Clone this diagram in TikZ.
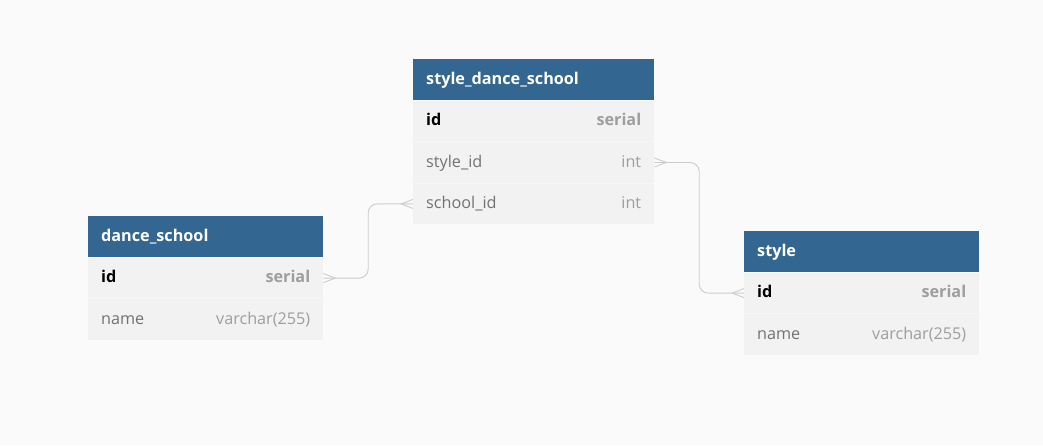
\documentclass[tikz,border=0pt]{standalone}
\usepackage{fontspec}
\setmainfont{Open Sans}
\usetikzlibrary{calc}
\definecolor{bg}{HTML}{FAFAFA}
\definecolor{hdr}{HTML}{336791}
\definecolor{rowbg}{HTML}{F2F2F2}
\definecolor{sepc}{HTML}{F6F6F6}
\definecolor{fname}{HTML}{727272}
\definecolor{ftype}{HTML}{9E9E9E}
\definecolor{linkc}{HTML}{CCCCCC}
\tikzset{
  hdrbox/.style={fill=hdr, draw=none, minimum height=41pt, anchor=north west, inner sep=0pt},
  rowbox/.style={fill=rowbg, draw=none, minimum height=41pt, anchor=north west, inner sep=0pt},
  hdrtext/.style={anchor=west, inner sep=0pt, text=white, font=\fontsize{16.2}{19}\selectfont\bfseries, text height=12pt, text depth=3pt},
  keytext/.style={anchor=west, inner sep=0pt, text=black, font=\fontsize{16.2}{19}\selectfont\bfseries, text height=12pt, text depth=3pt},
  keytype/.style={anchor=east, inner sep=0pt, text=ftype, font=\fontsize{16.2}{19}\selectfont\bfseries, text height=12pt, text depth=3pt},
  fldtext/.style={anchor=west, inner sep=0pt, text=fname, font=\fontsize{16.2}{19}\selectfont, text height=12pt, text depth=3pt},
  fldtype/.style={anchor=east, inner sep=0pt, text=ftype, font=\fontsize{16.2}{19}\selectfont, text height=12pt, text depth=3pt},
  linkline/.style={draw=linkc, line width=0.9pt},
}
\begin{document}
\begin{tikzpicture}[x=1pt,y=-1pt]
\fill[bg] (0,0) rectangle (1043,445);
\useasboundingbox (0,0) rectangle (1043,445);

% style_dance_school
\node[hdrbox, minimum width=241pt] (sds) at (413,59) {};
\node[hdrtext] (sdsT) at ([xshift=13pt]sds.west) {style\_dance\_school};
\node[rowbox, minimum width=241pt] (sds1) at (sds.south west) {};
\node[rowbox, minimum width=241pt] (sds2) at (sds1.south west) {};
\node[rowbox, minimum width=241pt] (sds3) at (sds2.south west) {};
\draw[sepc, line width=0.8pt] (sds1.south west) -- (sds1.south east);
\draw[sepc, line width=0.8pt] (sds2.south west) -- (sds2.south east);
\node[keytext] (sds1a) at ([xshift=13pt]sds1.west) {id};
\node[keytype] (sds1b) at ([xshift=-13pt]sds1.east) {serial};
\node[fldtext] (sds2a) at ([xshift=13pt]sds2.west) {style\_id};
\node[fldtype] (sds2b) at ([xshift=-13pt]sds2.east) {int};
\node[fldtext] (sds3a) at ([xshift=13pt]sds3.west) {school\_id};
\node[fldtype] (sds3b) at ([xshift=-13pt]sds3.east) {int};

% dance_school
\node[hdrbox, minimum width=235pt] (ds) at (88,216) {};
\node[hdrtext] (dsT) at ([xshift=13pt]ds.west) {dance\_school};
\node[rowbox, minimum width=235pt] (ds1) at (ds.south west) {};
\node[rowbox, minimum width=235pt] (ds2) at (ds1.south west) {};
\draw[sepc, line width=0.8pt] (ds1.south west) -- (ds1.south east);
\node[keytext] (ds1a) at ([xshift=13pt]ds1.west) {id};
\node[keytype] (ds1b) at ([xshift=-13pt]ds1.east) {serial};
\node[fldtext] (ds2a) at ([xshift=13pt]ds2.west) {name};
\node[fldtype] (ds2b) at ([xshift=-13pt]ds2.east) {varchar(255)};

% style
\node[hdrbox, minimum width=235pt] (st) at (744,231) {};
\node[hdrtext] (stT) at ([xshift=13pt]st.west) {style};
\node[rowbox, minimum width=235pt] (st1) at (st.south west) {};
\node[rowbox, minimum width=235pt] (st2) at (st1.south west) {};
\draw[sepc, line width=0.8pt] (st1.south west) -- (st1.south east);
\node[keytext] (st1a) at ([xshift=13pt]st1.west) {id};
\node[keytype] (st1b) at ([xshift=-13pt]st1.east) {serial};
\node[fldtext] (st2a) at ([xshift=13pt]st2.west) {name};
\node[fldtype] (st2b) at ([xshift=-13pt]st2.east) {varchar(255)};

% connectors
\coordinate (m1) at ($(ds1.east)!0.5!(sds3.west)$);
\draw[linkline, rounded corners=9pt] (ds1.east) -| (m1) |- (sds3.west);
\coordinate (m2) at ($(sds2.east)!0.5!(st1.west)$);
\draw[linkline, rounded corners=9pt] (sds2.east) -| (m2) |- (st1.west);

% crow's feet
\coordinate (c1) at ([xshift=12pt]ds1.east);
\draw[linkline] (c1) -- ([yshift=4.5pt]ds1.east) (c1) -- ([yshift=-4.5pt]ds1.east);
\coordinate (c2) at ([xshift=-12pt]sds3.west);
\draw[linkline] (c2) -- ([yshift=4.5pt]sds3.west) (c2) -- ([yshift=-4.5pt]sds3.west);
\coordinate (c3) at ([xshift=12pt]sds2.east);
\draw[linkline] (c3) -- ([yshift=4.5pt]sds2.east) (c3) -- ([yshift=-4.5pt]sds2.east);
\coordinate (c4) at ([xshift=-12pt]st1.west);
\draw[linkline] (c4) -- ([yshift=4.5pt]st1.west) (c4) -- ([yshift=-4.5pt]st1.west);
\end{tikzpicture}
\end{document}
